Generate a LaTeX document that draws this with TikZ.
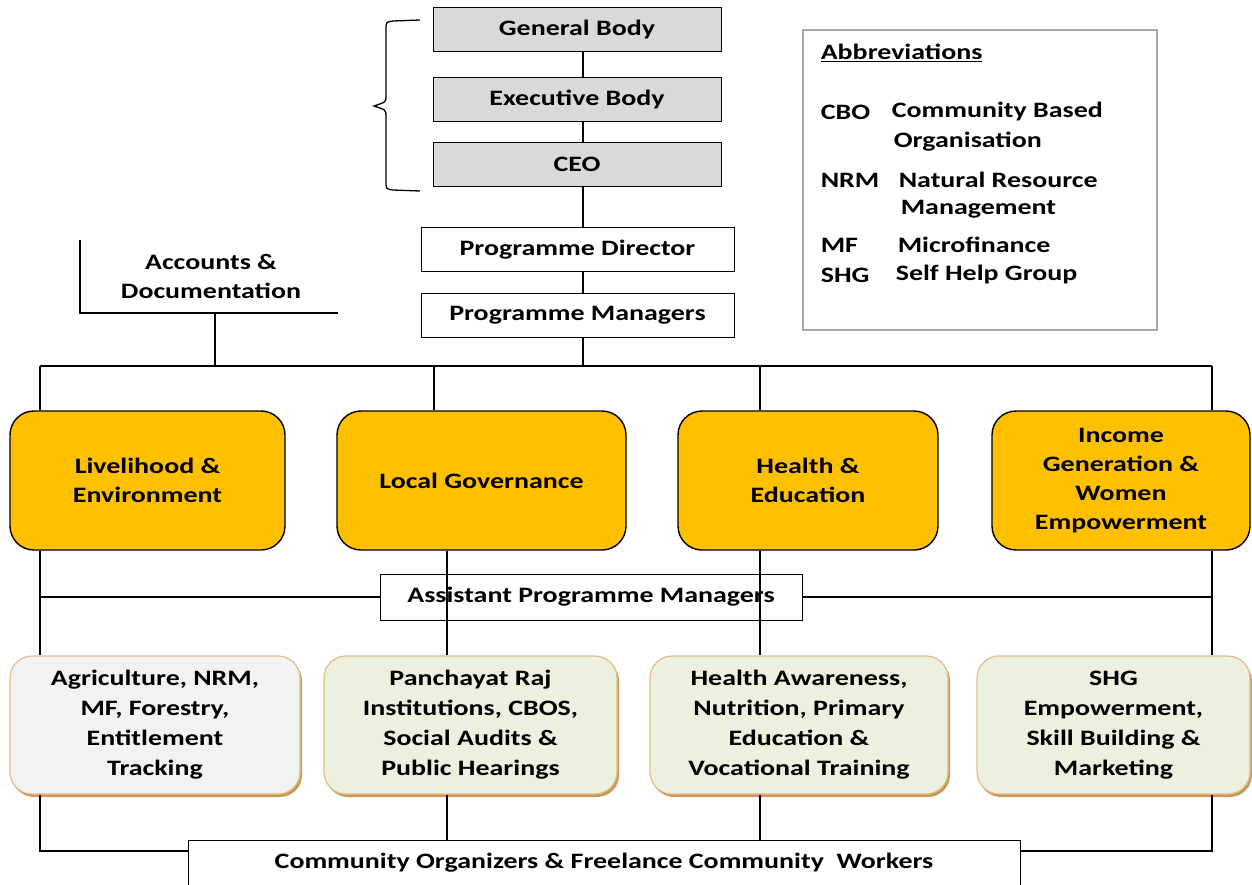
\documentclass[tikz,border=0pt]{standalone}
\usepackage{fontspec}
\setmainfont{Carlito}[FakeStretch=1.27]
\definecolor{boxgray}{HTML}{D9D9D9}
\definecolor{orng}{HTML}{FFC000}
\definecolor{lgreen}{HTML}{EBF1DE}
\definecolor{lgray}{HTML}{F2F2F2}
\definecolor{tan}{HTML}{E2BE8A}
\definecolor{tandark}{HTML}{C8995A}
\definecolor{abgray}{HTML}{A6A6A6}
\begin{document}
\begin{tikzpicture}[x=1pt,y=-1pt,
  line width=1.6pt,
  every node/.style={font=\bfseries\fontsize{22}{29}\selectfont, inner sep=0pt, align=center},
  graybox/.style={draw=black, line width=1pt, fill=boxgray, minimum width=288pt, minimum height=44pt},
  whitebox/.style={draw=black, line width=1pt, fill=white, minimum width=313pt, minimum height=44pt},
  orangebox/.style={draw=black, line width=1.4pt, fill=orng, rounded corners=24pt, minimum height=139pt},
  subbox/.style={draw=tan, line width=1.2pt, rounded corners=22pt, minimum height=138pt, font=\bfseries\fontsize{22}{30}\selectfont},
  abtxt/.style={anchor=west, font=\bfseries\fontsize{22}{29}\selectfont}
]
\useasboundingbox (0,0) rectangle (1252,884);
\fill[white] (0,0) rectangle (1252,884);

% top hierarchy
\node[graybox] (gb) at (577,29.5) {General Body};
\node[graybox] (eb) at (577,99) {Executive Body};
\node[graybox] (ceo) at (577,164.5) {CEO};
\node[whitebox] (pd) at (577.5,249.5) {Programme Director};
\node[whitebox] (pm) at (577.5,315.5) {Programme Managers};
\coordinate (sp) at (583,0);
\draw (gb.south -| sp) -- (eb.north -| sp);
\draw (eb.south -| sp) -- (ceo.north -| sp);
\draw (ceo.south -| sp) -- (pd.north -| sp);
\draw (pd.south -| sp) -- (pm.north -| sp);

% brace
\draw[line width=1.3pt] (420,20) -- (393,21) .. controls (386,22) .. (386,30) -- (386,96)
  .. controls (386,102) .. (374,106) .. controls (386,110) .. (386,116) -- (386,181)
  .. controls (386,189) .. (393,190) -- (420,191);

% abbreviations
\node[draw=abgray, line width=1.2pt, minimum width=354pt, minimum height=300pt] (abbr) at (980,180) {};
\node[abtxt] (abh) at (820,53) {\underline{Abbreviations}};
\node[abtxt] (a1) at (820,112) {CBO};
\node[abtxt] (a1t) at (891,112) {Community Based};
\node[abtxt] (a1u) at (893,142) {Organisation};
\node[abtxt] (a2) at (820,180) {NRM};
\node[abtxt] (a2t) at (898,180) {Natural Resource};
\node[abtxt] (a2u) at (900,209) {Management};
\node[abtxt] (a3) at (820,245) {MF};
\node[abtxt] (a3t) at (897,245) {Microfinance};
\node[abtxt] (a4) at (820,275) {SHG};
\node[abtxt] (a4t) at (895,275) {Self Help Group};

% accounts
\node (acc) at (211,276) {Accounts \&\\Documentation};
\coordinate (accT) at (80,240);
\coordinate (accC) at (80,313);
\coordinate (accR) at (338,313);
\coordinate (accD) at (215,313);
\draw[line width=1.3pt] (accT) -- (accC) -- (accR);

% bus
\coordinate (busL) at (40,366);
\coordinate (busR) at (1212,366);
\draw (busL) -- (busR);
\draw (pm.south -| sp) -- (sp |- busL);
\draw (accD) -- (accD |- busL);

% orange boxes
\node[orangebox, minimum width=275pt] (lv) at (147.5,480.5) {Livelihood \&\\Environment};
\node[orangebox, minimum width=289pt] (lg) at (481.5,480.5) {Local Governance};
\node[orangebox, minimum width=260pt] (he) at (808,480.5) {Health \&\\Education};
\node[orangebox, minimum width=258pt] (ig) at (1121,480.5) {Income\\Generation \&\\Women\\Empowerment};

\coordinate (c1) at (40,0);
\coordinate (c2t) at (434,0);
\coordinate (c2) at (447,0);
\coordinate (c3) at (760,0);
\coordinate (c4) at (1212,0);
\draw (busL) -- (lv.north -| c1);
\draw (c2t |- busL) -- (lg.north -| c2t);
\draw (c3 |- busL) -- (he.north -| c3);
\draw (busR) -- (ig.north -| c4);

% assistant programme managers
\node[draw=black, line width=1pt, fill=white, minimum width=422pt, minimum height=46pt] (apm) at (591,597) {Assistant Programme Managers};
\coordinate (aL) at (40,597);
\coordinate (aR) at (1212,597);
\draw (aL) -- (apm.west);
\draw (apm.east) -- (aR);

% second row
\begin{scope}
\fill[tandark, rounded corners=22pt] (12,659) rectangle (302,797);
\fill[tandark, rounded corners=22pt] (326,659) rectangle (619,797);
\fill[tandark, rounded corners=22pt] (652,659) rectangle (950,797);
\fill[tandark, rounded corners=22pt] (979,659) rectangle (1252,797);
\end{scope}
\node[subbox, fill=lgray, minimum width=290pt] (ag) at (155,725) {Agriculture, NRM,\\MF, Forestry,\\Entitlement\\Tracking};
\node[subbox, fill=lgreen, minimum width=293pt] (pr) at (470.5,725) {Panchayat Raj\\Institutions, CBOS,\\Social Audits \&\\Public Hearings};
\node[subbox, fill=lgreen, minimum width=298pt] (ha) at (799,725) {Health Awareness,\\Nutrition, Primary\\Education \&\\Vocational Training};
\node[subbox, fill=lgreen, minimum width=273pt] (sh) at (1113.5,725) {SHG\\Empowerment,\\Skill Building \&\\Marketing};

\draw (lv.south -| c1) -- (ag.north -| c1);
\draw (lg.south -| c2) -- (pr.north -| c2);
\draw (he.south -| c3) -- (ha.north -| c3);
\draw (ig.south -| c4) -- (sh.north -| c4);

% community
\node[draw=black, line width=1pt, fill=white, minimum width=832pt, minimum height=46pt] (cw) at (604,863) {Community Organizers \& Freelance Community\ \ Workers};
\coordinate (bL) at (40,851);
\coordinate (bR) at (1212,851);
\draw (ag.south -| c1) -- (bL) -- (bL -| cw.west);
\draw (sh.south -| c4) -- (bR) -- (bR -| cw.east);
\draw (pr.south -| c2) -- (cw.north -| c2);
\draw (ha.south -| c3) -- (cw.north -| c3);
\end{tikzpicture}
\end{document}
